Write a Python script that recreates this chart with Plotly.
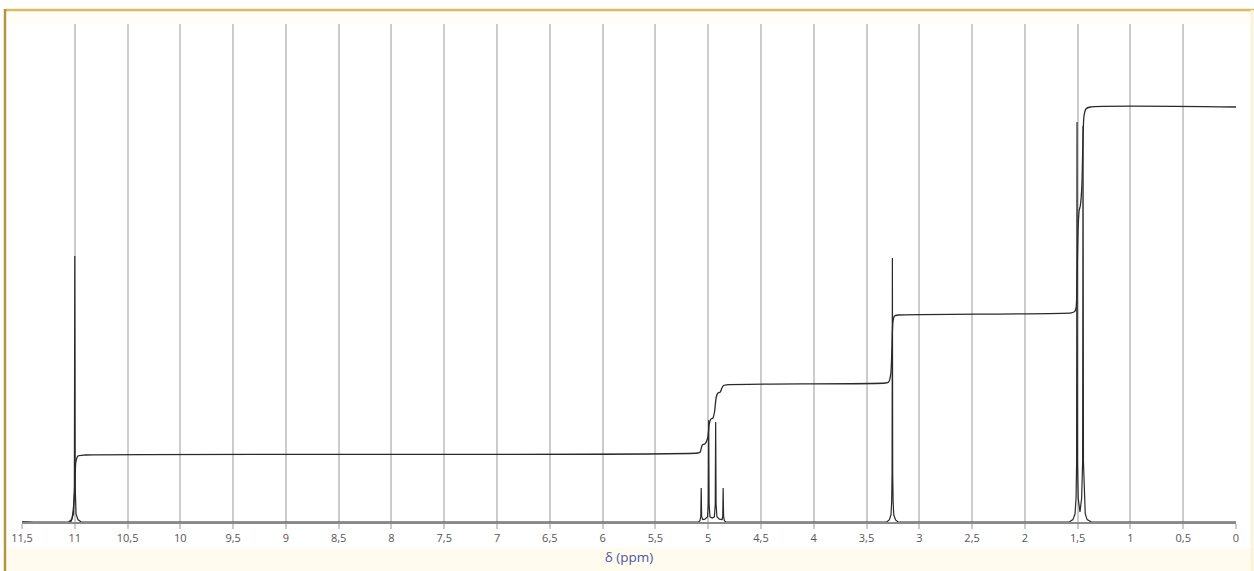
import plotly.graph_objects as go

# ---- data ----
# spectrum polyline: chemical shift (ppm) and intensity
spec_ppm = [11.50, 11.06, 11.03, 11.012, 11.004, 11.000, 10.996, 10.988, 10.97, 10.94,
            5.12, 5.090, 5.078, 5.070, 5.066, 5.062, 5.052,
            5.031,
            5.006, 4.999, 4.995, 4.991, 4.983,
            4.962,
            4.941, 4.933, 4.929, 4.925, 4.917,
            4.894,
            4.868, 4.862, 4.858, 4.854, 4.846, 4.834,
            3.31, 3.285, 3.268, 3.262, 3.258, 3.255, 3.252, 3.248, 3.242, 3.225, 3.20,
            1.58, 1.545, 1.525, 1.515, 1.510, 1.506, 1.502, 1.495, 1.478,
            1.462, 1.453, 1.449, 1.445, 1.438, 1.428, 1.41, 1.37, 0.00]
spec_int = [0, 0, 0.6, 2, 9, 66.5, 9, 2, 0.6, 0,
            0, 0, 0.3, 1.4, 8.5, 1.4, 0.6,
            0.7,
            1.3, 4.5, 25.5, 4.5, 1.3,
            1.0,
            1.3, 4.5, 25, 4.5, 1.3,
            0.7,
            0.6, 1.4, 8.5, 1.4, 0.3, 0,
            0, 0.5, 1.8, 5, 12, 66, 12, 5, 1.8, 0.5, 0,
            0, 0.6, 2, 6, 15, 100, 15, 6, 2.5,
            6, 15, 99, 15, 6, 2, 0.6, 0, 0]

# integral curve
integ_ppm = [11.50, 11.04, 11.02, 11.00, 10.99, 10.97, 10.90,
             5.10, 5.075, 5.065, 5.055, 5.03, 5.005, 4.99, 4.975, 4.955, 4.94, 4.925,
             4.91, 4.885, 4.87, 4.855, 4.83,
             3.32, 3.29, 3.27, 3.26, 3.25, 3.235, 3.20,
             1.56, 1.53, 1.515, 1.505, 1.495, 1.485, 1.475, 1.46, 1.45, 1.44, 1.42, 1.38, 0.00]
integ_val = [0, 0, 2, 8, 15, 16.5, 16.75,
             17.25, 17.5, 18.5, 19.3, 19.5, 21, 24.5, 25.7, 26, 27.5, 31,
             32.2, 32.5, 33.5, 34.1, 34.3,
             34.75, 35, 37, 43, 50, 51.5, 51.75,
             52.3, 52.6, 53.5, 62, 74, 78, 79, 84, 95, 101.5, 103.3, 103.75, 103.75]

tick_vals = [11.5, 11, 10.5, 10, 9.5, 9, 8.5, 8, 7.5, 7, 6.5, 6, 5.5, 5, 4.5, 4,
             3.5, 3, 2.5, 2, 1.5, 1, 0.5, 0]
tick_text = ["11,5", "11", "10,5", "10", "9,5", "9", "8,5", "8", "7,5", "7", "6,5", "6",
             "5,5", "5", "4,5", "4", "3,5", "3", "2,5", "2", "1,5", "1", "0,5", "0"]

# ---- figure ----
W, H = 1254, 571
L, R, T, B = 22, 18, 24, 49
pw, ph = W - L - R, H - T - B

def px(x):
    return (x - L) / pw

def py(y):
    return (H - B - y) / ph

fig = go.Figure()
fig.add_trace(go.Scatter(x=spec_ppm, y=spec_int, mode="lines",
                         line=dict(color="#2a2a2a", width=1.2), hoverinfo="skip"))
fig.add_trace(go.Scatter(x=integ_ppm, y=integ_val, mode="lines",
                         line=dict(color="#2a2a2a", width=1.3, shape="spline", smoothing=0.6),
                         hoverinfo="skip"))

fig.update_layout(
    width=W, height=H,
    margin=dict(l=L, r=R, t=T, b=B),
    paper_bgcolor="white", plot_bgcolor="white",
    showlegend=False,
    xaxis=dict(range=[11.5, 0], tickvals=tick_vals, ticktext=tick_text, automargin=False,
               showgrid=True, gridcolor="#cccccc", gridwidth=1.5,
               zeroline=False, showline=True, linecolor="#8a8a8a", linewidth=1.5,
               ticks="outside", ticklen=5, tickcolor="#cccccc", tickwidth=1.5,
               tickfont=dict(family="Open Sans", size=11, color="#555555"),
               title=dict(text="δ (ppm)", standoff=9,
                          font=dict(family="Open Sans", size=13.5, color="#4a56a8"))),
    yaxis=dict(range=[0, 124.5], visible=False, fixedrange=True, automargin=False),
    shapes=[
        dict(type="rect", xref="paper", yref="paper",
             x0=px(6), x1=px(W), y0=py(H), y1=py(548),
             line=dict(width=0), fillcolor="rgba(255,248,220,0.45)", layer="below"),
        dict(type="rect", xref="paper", yref="paper",
             x0=px(6), x1=px(W), y0=py(24), y1=py(11),
             line=dict(width=0), fillcolor="rgba(255,250,230,0.35)", layer="below"),
        # outer frame (golden window border)
        dict(type="line", xref="paper", yref="paper",
             x0=px(5), x1=px(W), y0=py(10), y1=py(10),
             line=dict(color="#d9bb66", width=2.5), layer="above"),
        dict(type="line", xref="paper", yref="paper",
             x0=px(5), x1=px(5), y0=py(H), y1=py(9),
             line=dict(color="#b39640", width=2.5), layer="above"),
        dict(type="line", xref="paper", yref="paper",
             x0=px(W - 2), x1=px(W - 2), y0=py(H), y1=py(10),
             line=dict(color="#fbf3d8", width=3), layer="above"),
    ],
)

fig.write_html("out.html", config={"displayModeBar": False},
               post_script="document.body.style.margin='0px';")
